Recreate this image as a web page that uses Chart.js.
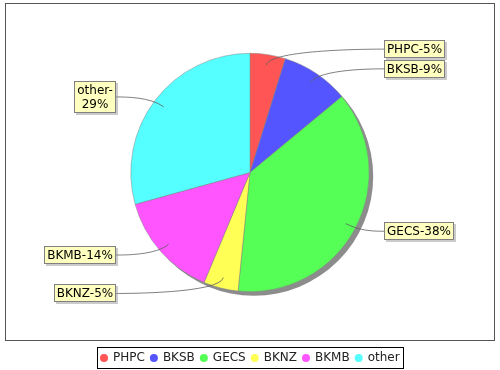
<!DOCTYPE html>
<html>
<head>
<meta charset="utf-8">
<script src="https://cdn.jsdelivr.net/npm/chart.js@4"></script>
<style>
  html, body { margin: 0; padding: 0; background: #ffffff; }
  #wrap { width: 500px; height: 370px; position: relative; }
</style>
</head>
<body>
<div id="wrap"><canvas id="c" width="500" height="370"></canvas></div>
<script>
// ---- data ----
const categories = ['PHPC', 'BKSB', 'GECS', 'BKNZ', 'BKMB', 'other'];
const shares = [4.8, 9.2, 37.6, 4.7, 14.4, 29.3];
const percentLabels = ['5%', '9%', '38%', '5%', '14%', '29%'];
const sliceColors = ['#FF5555', '#5555FF', '#55FF55', '#FFFF55', '#FF55FF', '#55FFFF'];
const wrappedCategories = ['other'];

const FONT = '12px "DejaVu Sans", "Liberation Sans", sans-serif';

const decorPlugin = {
  id: 'decor',
  beforeDraw(chart) {
    const ctx = chart.ctx;
    ctx.save();
    ctx.fillStyle = '#ffffff';
    ctx.fillRect(0, 0, chart.width, chart.height);
    // plot frame
    ctx.strokeStyle = '#555555';
    ctx.lineWidth = 1;
    ctx.strokeRect(5.5, 3.5, 489, 337);
    ctx.restore();
  },
  beforeDatasetsDraw(chart) {
    const arc = chart.getDatasetMeta(0).data[0];
    if (!arc) return;
    const ctx = chart.ctx;
    ctx.save();
    ctx.fillStyle = '#8c8c8c';
    ctx.beginPath();
    ctx.arc(arc.x + 4, arc.y + 4, arc.outerRadius, 0, Math.PI * 2);
    ctx.fill();
    ctx.restore();
  },
  afterDatasetsDraw(chart) {
    const ctx = chart.ctx;
    const meta = chart.getDatasetMeta(0);
    ctx.save();
    ctx.font = FONT;
    meta.data.forEach((el, i) => {
      const cx = el.x, cy = el.y, R = el.outerRadius;
      const mid = (el.startAngle + el.endAngle) / 2;
      const cs = Math.cos(mid), sn = Math.sin(mid);
      const right = cs >= 0;
      const linkR = R * 1.047;
      const lx = cx + cs * R * 0.91, ly = cy + sn * R * 0.91;
      const ex = cx + cs * linkR, ey = cy + sn * linkR;
      const ax = right ? cx + linkR : cx - linkR;
      const edgeX = right ? cx + R * 1.125 : cx - R * 1.125;
      const ty = ey;

      let lines;
      if (wrappedCategories.includes(categories[i])) {
        lines = [categories[i] + '-', percentLabels[i]];
      } else {
        lines = [categories[i] + '-' + percentLabels[i]];
      }
      const lh = 14, padV = 2, padH = 3;
      const tw = Math.max(...lines.map(t => ctx.measureText(t).width));
      const bw = Math.round(tw + padH * 2);
      const bh = lines.length * lh + padV * 2;
      const bx = Math.round(right ? edgeX : edgeX - bw);
      const by = Math.round(ty - bh / 2);

      // leader line
      ctx.strokeStyle = '#606060';
      ctx.lineWidth = 0.8;
      ctx.beginPath();
      ctx.moveTo(lx, ly);
      ctx.bezierCurveTo(ex, ey, ax, ey, edgeX, ty);
      ctx.stroke();

      // box shadow
      ctx.fillStyle = 'rgba(151,151,151,0.5)';
      ctx.fillRect(bx + 2, by + 2, bw, bh);
      // box
      ctx.fillStyle = '#FFFFC0';
      ctx.fillRect(bx, by, bw, bh);
      ctx.strokeStyle = '#808080';
      ctx.lineWidth = 1;
      ctx.strokeRect(bx + 0.5, by + 0.5, bw - 1, bh - 1);
      // text
      ctx.fillStyle = '#000000';
      ctx.textAlign = 'center';
      ctx.textBaseline = 'middle';
      lines.forEach((t, k) => {
        ctx.fillText(t, bx + bw / 2, by + padV + lh * k + lh / 2 + 0.5);
      });
    });
    ctx.restore();
  },
  afterDraw(chart) {
    // legend
    const ctx = chart.ctx;
    ctx.save();
    ctx.font = FONT;
    const widths = categories.map(c => ctx.measureText(c).width);
    const total = 3 + widths.reduce((a, w) => a + 13 + w, 0) + 5 * (categories.length - 1) + 4;
    const left = Math.round(250 - total / 2);
    const top = 347, h = 21;
    ctx.fillStyle = '#ffffff';
    ctx.fillRect(left, top, total, h);
    ctx.strokeStyle = '#000000';
    ctx.lineWidth = 1;
    ctx.strokeRect(left + 0.5, top + 0.5, Math.round(total) - 1, h);
    let x = left + 3;
    const yc = top + h / 2 + 0.5;
    categories.forEach((c, i) => {
      ctx.fillStyle = sliceColors[i];
      ctx.beginPath();
      ctx.arc(x + 4, yc, 4, 0, Math.PI * 2);
      ctx.fill();
      ctx.fillStyle = '#222222';
      ctx.textAlign = 'left';
      ctx.textBaseline = 'middle';
      ctx.fillText(c, x + 13, yc);
      x += 13 + widths[i] + 5;
    });
    ctx.restore();
  }
};

new Chart(document.getElementById('c'), {
  type: 'pie',
  data: {
    labels: categories,
    datasets: [{
      data: shares,
      backgroundColor: sliceColors,
      borderColor: 'rgba(130,130,130,0.8)',
      borderWidth: 0.6,
      hoverOffset: 0
    }]
  },
  options: {
    responsive: false,
    animation: false,
    devicePixelRatio: 1,
    layout: { padding: { top: 53, bottom: 78, left: 10, right: 10 } },
    plugins: {
      legend: { display: false },
      tooltip: { enabled: false },
      title: { display: false }
    }
  },
  plugins: [decorPlugin]
});
</script>
</body>
</html>
